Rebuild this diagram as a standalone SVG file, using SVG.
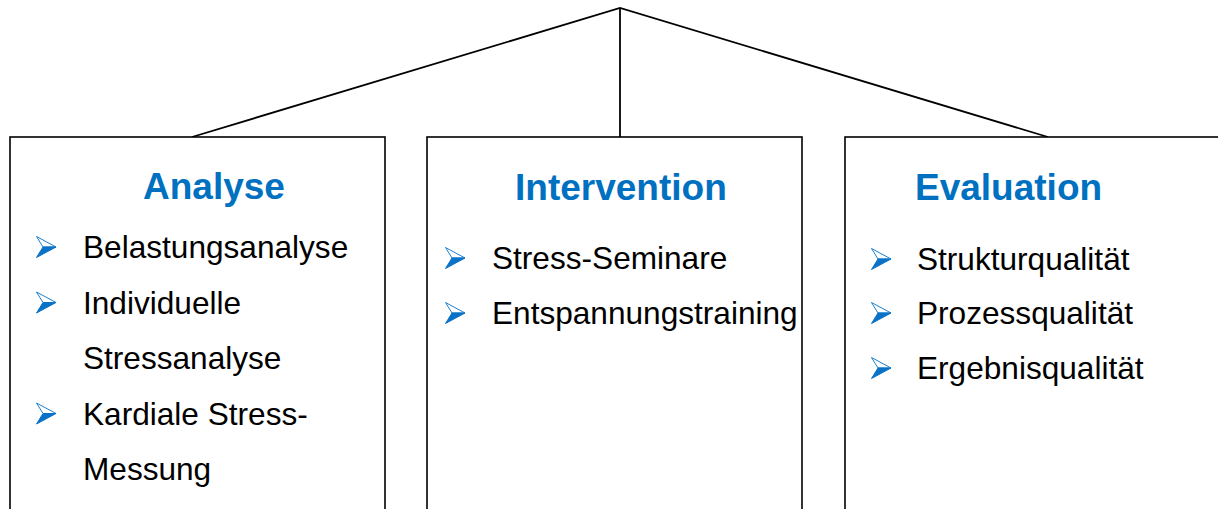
<svg xmlns="http://www.w3.org/2000/svg" xmlns:xlink="http://www.w3.org/1999/xlink" width="1218" height="509" viewBox="0 0 1218 509">
  <style>
    .box { fill: #ffffff; stroke: #000000; stroke-width: 1.6; }
    .link { fill: none; stroke: #000000; stroke-width: 1.8; }
    .title { font-family: "Liberation Sans", Arial, sans-serif; font-weight: bold; font-size: 37px; fill: #0070C0; }
    .item { font-family: "Liberation Sans", Arial, sans-serif; font-size: 31.6px; fill: #000000; }
  </style>
  <defs>
    <!-- dart-shaped list bullet: outlined upper half, filled lower half -->
    <g id="dart">
      <path d="M0.5,0.5 L20,11 L7,11 Z" fill="#ffffff" stroke="#1a7fd0" stroke-width="1" stroke-linejoin="miter"/>
      <path d="M7,11 L20,11 L0.5,21.5 Z" fill="#0a72c6" stroke="#0a72c6" stroke-width="1"/>
    </g>
  </defs>
  <rect width="1218" height="509" fill="#ffffff"/>

  <g id="connectors">
    <polyline class="link" points="192,137 620,8 1048,137"/>
    <line class="link" x1="620" y1="8" x2="620" y2="137"/>
  </g>

  <g id="analyse">
    <rect class="box" x="10" y="137" width="375" height="390"/>
    <text class="title" x="143" y="199">Analyse</text>
    <use xlink:href="#dart" x="36" y="236"/>
    <text class="item" x="83" y="258">Belastungsanalyse</text>
    <use xlink:href="#dart" x="36" y="291.5"/>
    <text class="item" x="83" y="313.5">Individuelle</text>
    <text class="item" x="83" y="369">Stressanalyse</text>
    <use xlink:href="#dart" x="36" y="402.5"/>
    <text class="item" x="83" y="424.5">Kardiale Stress-</text>
    <text class="item" x="83" y="480">Messung</text>
  </g>

  <g id="intervention">
    <rect class="box" x="427" y="137" width="375" height="390"/>
    <text class="title" x="515" y="200">Intervention</text>
    <use xlink:href="#dart" x="445" y="247"/>
    <text class="item" x="492" y="269">Stress-Seminare</text>
    <use xlink:href="#dart" x="445" y="302"/>
    <text class="item" x="492" y="324">Entspannungstraining</text>
  </g>

  <g id="evaluation">
    <rect class="box" x="845" y="137" width="400" height="390"/>
    <text class="title" x="915" y="200">Evaluation</text>
    <use xlink:href="#dart" x="871" y="248"/>
    <text class="item" x="917" y="270">Strukturqualität</text>
    <use xlink:href="#dart" x="871" y="302"/>
    <text class="item" x="917" y="324">Prozessqualität</text>
    <use xlink:href="#dart" x="871" y="357"/>
    <text class="item" x="917" y="379">Ergebnisqualität</text>
  </g>
</svg>
